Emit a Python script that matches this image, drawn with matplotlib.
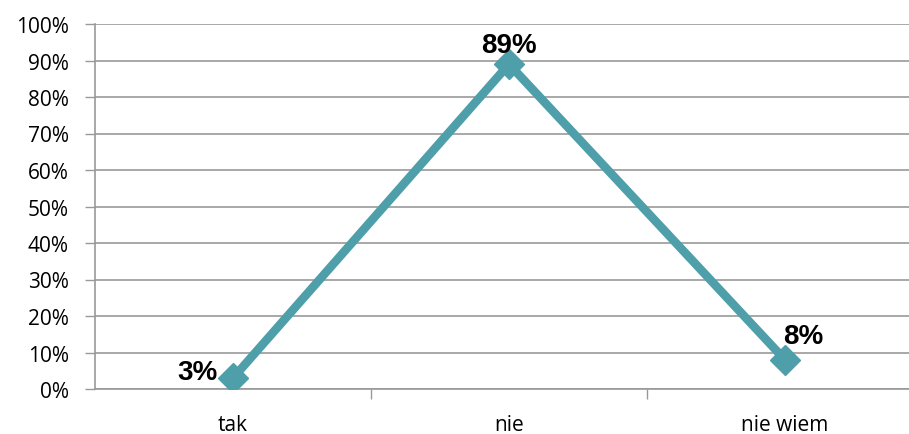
import matplotlib
matplotlib.use("Agg")
import matplotlib.pyplot as plt
from matplotlib.ticker import FuncFormatter

categories = ["tak", "nie", "nie wiem"]
values = [3, 89, 8]
value_labels = ["3%", "89%", "8%"]

plt.rcParams['font.family'] = ['Open Sans', 'DejaVu Sans']

fig = plt.figure(figsize=(9.09, 4.35), dpi=100)
W, H = 909, 435
left, right, top, bottom = 95, 923, 25, 390
ax = fig.add_axes([left / W, 1 - bottom / H, (right - left) / W, (bottom - top) / H])

x = list(range(len(categories)))
color = "#4E9FAA"
ax.plot(x, values, color=color, lw=6.2, marker="D", markersize=15,
        markerfacecolor=color, markeredgecolor=color, solid_capstyle="butt", zorder=3)

ax.set_xlim(-0.5, 2.5)
ax.set_ylim(0, 100)
ax.set_yticks(range(0, 101, 10))
ax.yaxis.set_major_formatter(FuncFormatter(lambda v, p: f"{int(v)}%"))
ax.set_xticks([0.5, 1.5])
ax.set_xticklabels([])
ax.set_xticks(x, minor=True)
ax.set_xticklabels(categories, minor=True)
ax.tick_params(axis="x", which="minor", length=0, labelsize=15, pad=18)
ax.tick_params(axis="x", which="major", length=7, color="#999999", width=1)
ax.tick_params(axis="y", length=7, color="#999999", width=1, labelsize=15, pad=12)

ax.grid(axis="y", color="#999999", lw=1.2)
ax.set_axisbelow(True)
for s in ["top", "right"]:
    ax.spines[s].set_visible(False)
ax.spines["left"].set_color("#999999")
ax.spines["bottom"].set_color("#999999")
ax.spines["left"].set_linewidth(1.2)
ax.spines["bottom"].set_linewidth(1.2)

offsets = [(-11, -1, "right", "baseline"), (0, 9, "center", "baseline"), (-1.5, 12, "left", "baseline")]
for xi, v, lab, (dx, dy, ha, va) in zip(x, values, value_labels, offsets):
    ax.annotate(lab, (xi, v), xytext=(dx, dy), textcoords="offset points",
                ha=ha, va=va, fontsize=20, fontweight="bold", color="black",
                family=["Liberation Sans", "DejaVu Sans"])

fig.savefig("out.png", dpi=100)
